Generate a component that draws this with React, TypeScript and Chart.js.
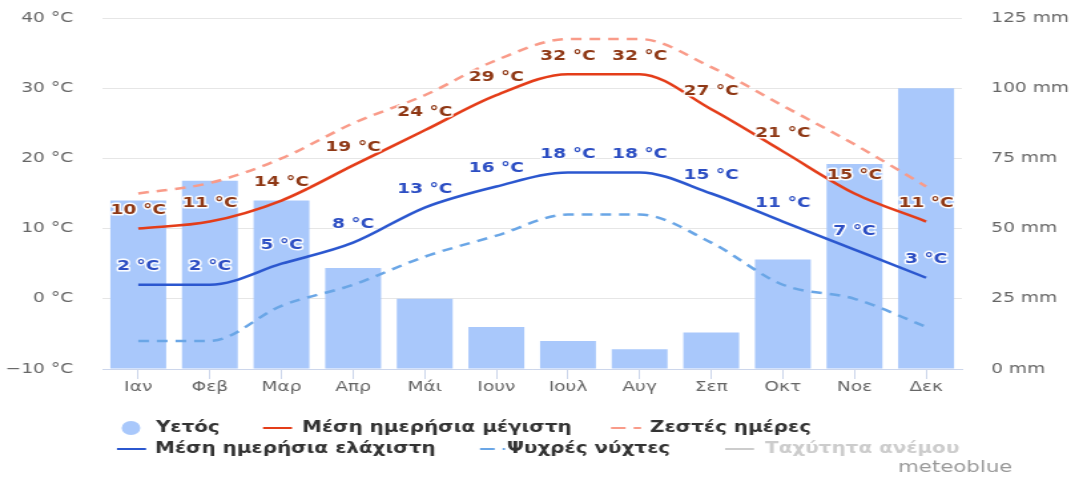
import React, { useEffect, useRef } from "react";
import { Chart, registerables } from "chart.js";

Chart.register(...registerables);

const months = ["Ιαν", "Φεβ", "Μαρ", "Απρ", "Μάι", "Ιουν", "Ιουλ", "Αυγ", "Σεπ", "Οκτ", "Νοε", "Δεκ"];
const precipitation = [60, 67, 60, 36, 25, 15, 10, 7, 13, 39, 73, 100];
const meanMax = [10, 11, 14, 19, 24, 29, 32, 32, 27, 21, 15, 11];
const hotDays = [15, 16.5, 20, 25, 29, 34, 37, 37, 33, 27.5, 22, 16];
const meanMin = [2, 2, 5, 8, 13, 16, 18, 18, 15, 11, 7, 3];
const coldNights = [-6, -6, -1, 2, 6, 9, 12, 12, 8, 2, 0, -4];
const tempTicks = [-10, 0, 10, 20, 30, 40];
const rainTicks = [0, 25, 50, 75, 100, 125];
const legendNames = ["Υετός", "Μέση ημερήσια μέγιστη", "Ζεστές ημέρες", "Μέση ημερήσια ελάχιστη", "Ψυχρές νύχτες", "Ταχύτητα ανέμου"];
const credit = "meteoblue";

const W = 808;
const H = 479;
const S = 1075 / W;
const FONT = "'DejaVu Sans', sans-serif";

const COL = {
  bar: "#a9c8fb",
  max: "#e43d19",
  hot: "#f99b89",
  min: "#2b57cf",
  cold: "#6aa6e6",
  maxLabel: "#8f3815",
  minLabel: "#2c4ec3",
  wind: "#cccccc",
};

const labelPlugin = {
  id: "pointLabels",
  afterDatasetsDraw(chart: any) {
    const ctx = chart.ctx;
    const targets = [
      { idx: 1, color: COL.maxLabel },
      { idx: 3, color: COL.minLabel },
    ];
    ctx.save();
    ctx.font = `bold 14px ${FONT}`;
    ctx.textAlign = "center";
    ctx.textBaseline = "middle";
    ctx.lineJoin = "round";
    for (const t of targets) {
      const meta = chart.getDatasetMeta(t.idx);
      const data = chart.data.datasets[t.idx].data as number[];
      meta.data.forEach((el: any, i: number) => {
        const txt = `${data[i]} °C`;
        const x = el.x;
        const y = el.y - 18;
        ctx.strokeStyle = "rgba(255,255,255,0.95)";
        ctx.lineWidth = 3;
        ctx.strokeText(txt, x, y);
        ctx.fillStyle = t.color;
        ctx.fillText(txt, x, y);
      });
    }
    ctx.restore();
  },
};

const legendPlugin = {
  id: "customLegend",
  afterDraw(chart: any) {
    const ctx = chart.ctx;
    const X = (v: number) => v / S;
    const r1 = 428;
    const r2 = 449;
    ctx.save();
    ctx.font = `bold 15px ${FONT}`;
    ctx.textBaseline = "middle";
    ctx.textAlign = "left";

    // Υετός
    ctx.fillStyle = COL.bar;
    ctx.beginPath();
    ctx.arc(X(131), r1, 7, 0, Math.PI * 2);
    ctx.fill();
    ctx.fillStyle = "#333333";
    ctx.fillText(legendNames[0], X(156), r1);

    const line = (x1: number, x2: number, y: number, color: string, dash: number[]) => {
      ctx.save();
      ctx.strokeStyle = color;
      ctx.lineWidth = 2;
      ctx.setLineDash(dash);
      ctx.beginPath();
      ctx.moveTo(X(x1), y);
      ctx.lineTo(X(x2), y);
      ctx.stroke();
      ctx.restore();
    };

    line(263, 292, r1, COL.max, []);
    ctx.fillStyle = "#333333";
    ctx.fillText(legendNames[1], X(302), r1);

    line(611, 641, r1, COL.hot, [11, 6]);
    ctx.fillStyle = "#333333";
    ctx.fillText(legendNames[2], X(650), r1);

    line(117, 146, r2, COL.min, []);
    ctx.fillStyle = "#333333";
    ctx.fillText(legendNames[3], X(155), r2);

    line(480, 505, r2, COL.cold, [11, 6]);
    ctx.fillStyle = "#333333";
    ctx.fillText(legendNames[4], X(507), r2);

    line(725, 754, r2, COL.wind, []);
    ctx.fillStyle = "#cccccc";
    ctx.fillText(legendNames[5], X(765), r2);

    ctx.font = `16px ${FONT}`;
    ctx.fillStyle = "#999999";
    ctx.fillText(credit, X(898), 468);
    ctx.restore();
  },
};

export default function App() {
  const ref = useRef<HTMLCanvasElement | null>(null);

  useEffect(() => {
    if (!ref.current) return;
    const chart = new Chart(ref.current, {
      type: "bar",
      data: {
        labels: months,
        datasets: [
          {
            type: "bar",
            label: legendNames[0],
            data: precipitation,
            yAxisID: "y1",
            backgroundColor: COL.bar,
            borderColor: "#ffffff",
            borderWidth: 0,
            barPercentage: 0.78,
            categoryPercentage: 1,
            order: 10,
          },
          {
            type: "line",
            label: legendNames[1],
            data: meanMax,
            yAxisID: "y",
            borderColor: COL.max,
            borderWidth: 2.5,
            pointRadius: 0,
            cubicInterpolationMode: "monotone",
            order: 2,
          },
          {
            type: "line",
            label: legendNames[2],
            data: hotDays,
            yAxisID: "y",
            borderColor: COL.hot,
            borderWidth: 2.5,
            borderDash: [8, 6],
            pointRadius: 0,
            cubicInterpolationMode: "monotone",
            order: 3,
          },
          {
            type: "line",
            label: legendNames[3],
            data: meanMin,
            yAxisID: "y",
            borderColor: COL.min,
            borderWidth: 2.5,
            pointRadius: 0,
            cubicInterpolationMode: "monotone",
            order: 2,
          },
          {
            type: "line",
            label: legendNames[4],
            data: coldNights,
            yAxisID: "y",
            borderColor: COL.cold,
            borderWidth: 2.5,
            borderDash: [8, 6],
            pointRadius: 0,
            cubicInterpolationMode: "monotone",
            order: 3,
          },
        ],
      } as any,
      options: {
        responsive: false,
        animation: false,
        devicePixelRatio: 1,
        layout: { padding: { top: 18, bottom: 80, left: 0, right: 0 } },
        plugins: {
          legend: { display: false },
          tooltip: { enabled: false },
        },
        scales: {
          x: {
            offset: true,
            grid: {
              offset: false,
              drawOnChartArea: false,
              drawTicks: true,
              tickLength: 10,
              color: "#ccd6eb",
            },
            border: { color: "#ccd6eb", width: 1 },
            ticks: { font: { family: FONT, size: 14 }, color: "#666666", padding: 0 },
            afterFit: (s: any) => {
              s.height = 30;
            },
          },
          y: {
            position: "left",
            min: -10,
            max: 40,
            afterBuildTicks: (s: any) => {
              s.ticks = tempTicks.map((v) => ({ value: v }));
            },
            ticks: {
              font: { family: FONT, size: 14 },
              color: "#666666",
              padding: 22,
              callback: (v: any) => `${v < 0 ? "−" + Math.abs(v) : v} °C`,
            },
            grid: { color: "#e6e6e6", drawTicks: false },
            border: { display: false },
            afterFit: (s: any) => {
              s.width = 77;
              s.paddingTop = 0;
              s.paddingBottom = 0;
            },
          },
          y1: {
            position: "right",
            min: 0,
            max: 125,
            afterBuildTicks: (s: any) => {
              s.ticks = rainTicks.map((v) => ({ value: v }));
            },
            ticks: {
              font: { family: FONT, size: 14 },
              color: "#666666",
              padding: 22,
              callback: (v: any) => `${v} mm`,
            },
            grid: { drawOnChartArea: false, drawTicks: false },
            border: { display: false },
            afterFit: (s: any) => {
              s.width = 85;
              s.paddingTop = 0;
              s.paddingBottom = 0;
            },
          },
        },
      } as any,
      plugins: [labelPlugin, legendPlugin],
    });
    return () => chart.destroy();
  }, []);

  return (
    <div style={{ position: "absolute", left: 0, top: 0, width: 1075, height: H, background: "#ffffff" }}>
      <canvas
        ref={ref}
        width={W}
        height={H}
        style={{ width: "1075px", height: `${H}px`, display: "block" }}
      />
    </div>
  );
}
